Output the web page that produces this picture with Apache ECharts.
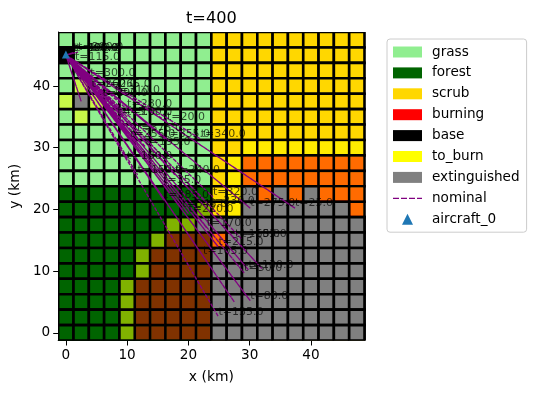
<!DOCTYPE html>
<html>
<head>
<meta charset="utf-8">
<style>html,body{margin:0;background:#fff}#chart{width:536px;height:393px}</style>
<script src="https://cdn.jsdelivr.net/npm/echarts@6/dist/echarts.min.js"></script>
</head>
<body>
<div id="chart"></div>
<script>
const tickValues = [0, 10, 20, 30, 40];
const cellKm = 2.5;
const basePoint = [0, 45];
const aircraftPoint = [0, 45.1];

// one string per row, top row (y = 47.5) first, one letter per column
const fuelRows = [
  "ggggggggggssssssssss", "ggggggggggssssssssss", "ggggggggggssssssssss", "ggggggggggssssssssss", "ggggggggggssssssssss",
  "ggggggggggssssssssss", "ggggggggggssssssssss", "ggggggggggssssssssss", "ggggggggggssssssssss", "ggggggggggssssssssss",
  "ffffffffffssssssssss", "ffffffffffssssssssss", "ffffffffffssssssssss", "ffffffffffssssssssss", "ffffffffffssssssssss",
  "ffffffffffssssssssss", "ffffffffffssssssssss", "ffffffffffssssssssss", "ffffffffffssssssssss", "ffffffffffssssssssss",
];
const stateRows = [
  "....................",
  "k...................",
  "....................",
  ".y..................",
  "yxy.................",
  ".y..................",
  "....................",
  "............yyyyyyyy",
  "...........ybbbbbbbb",
  "...........ybbbbbbbb",
  "...........yxbxbxbbb",
  ".........y.yxxxxxxxb",
  ".......yyxxxxxxxxxxx",
  "......ybbbbxxxxxxxxx",
  ".....ybbbbxxxxxxxxxx",
  ".....ybbbbxxxxxxxxxx",
  "....ybbbbbxxxxxxxxxx",
  "....ybbbbbxxxxxxxxxx",
  "....ybbbbbxxxxxxxxxx",
  "....ybbbbbxxxxxxxxxx",
];

// drop points of the nominal route, in time order ("" = label not readable)
const targetLabels = ["t=20.0", "t=25.0", "t=35.0", "t=45.0", "t=50.0", "", "t=80.0", "", "t=100.0", "t=105.0", "t=115.0", "t=130.0", "t=135.0", "t=150.0", "t=160.0", "t=165.0", "t=170.0", "t=180.0", "t=185.0", "t=195.0", "t=215.0", "t=220.0", "t=230.0", "t=240.0", "t=255.0", "t=260.0", "t=265.0", "t=275.0", "t=280.0", "t=290.0", "t=300.0", "t=310.0", "t=320.0", "t=340.0", "t=345.0", "t=355.0", "t=375.0", "t=385.0", "", "t=390.0", "t=395.0", "t=400.0"];
const targetX = [16.5, 37.4, 15.9, 8.4, 29.1, 32, 30.1, 27.5, 1.6, 22.4, 1.5, 29.8, 24.9, 11.7, 10, 27.6, 23, 10, 28.7, 13, 24.9, 20, 23.5, 17.8, 10.5, 4.2, 6.5, 30.1, 10, 6, 4, 8, 24, 22, 19, 16.2, 11.6, 16, 2.5, 2, 1.2, 1.2];
const targetY = [34.2, 20.2, 24, 35, 9.7, 10.4, 5.2, 5, 45.4, 12.4, 43.9, 10.2, 2.6, 25.6, 35, 15.2, 17, 27.9, 15.2, 30.1, 13.9, 19.3, 20.5, 25.6, 31.4, 39.5, 39.5, 20.2, 36.2, 38, 41.3, 38.5, 22, 31.4, 20, 31.4, 32.4, 21.5, 37.5, 45.5, 45.4, 45.4];

const colors = {
  grass: "#90ee90",
  forest: "#006400",
  scrub: "#ffd700",
  burning: "#ff0000",
  base: "#000000",
  to_burn: "#ffff00",
  extinguished: "#808080",
  nominal: "#800080",
  aircraft: "#1f77b4",
};

const font = "DejaVu Sans";
const gapPx = 2.6;

const cellsFor = (rows, code) => {
  const cells = [];
  rows.forEach((row, r) => {
    row.split("").forEach((c, col) => {
      if (c === code) {
        cells.push([col * cellKm, (rows.length - 1 - r) * cellKm]);
      }
    });
  });
  return cells;
};

const cellSeries = (name, rows, code, overlay) => ({
  name: name,
  type: "custom",
  coordinateSystem: "cartesian2d",
  clip: true,
  z: overlay ? 3 : 2,
  silent: true,
  itemStyle: {color: colors[name]},
  data: cellsFor(rows, code),
  encode: {x: 0, y: 1},
  renderItem: (params, api) => {
    const center = api.coord([api.value(0), api.value(1)]);
    const size = api.size([cellKm, cellKm]);
    const inset = overlay ? gapPx : 0;
    return {
      type: "rect",
      shape: {
        x: center[0] - size[0] / 2 + inset / 2,
        y: center[1] - size[1] / 2 + inset / 2,
        width: size[0] - inset,
        height: size[1] - inset,
      },
      style: overlay
        ? {fill: colors[name], opacity: 0.5}
        : {fill: colors[name], stroke: "#000", lineWidth: gapPx},
    };
  },
});

// the route goes out to every drop point and back to base
const routePoints = [basePoint];
targetX.forEach((x, i) => {
  routePoints.push([x, targetY[i]]);
  routePoints.push(basePoint);
});

const axisCommon = {
  type: "value",
  min: -1.25,
  max: 48.75,
  nameLocation: "middle",
  nameTextStyle: {color: "#000", fontFamily: font, fontSize: 13.9},
  splitLine: {show: false},
  axisLine: {show: true, onZero: false, lineStyle: {color: "#000", width: 1}},
  axisTick: {show: true, length: 5, lineStyle: {color: "#000", width: 1}, customValues: tickValues},
  axisLabel: {color: "#000", fontFamily: font, fontSize: 13.6, margin: 8, customValues: tickValues},
};

const legendPatch = (name) => ({
  name: name,
  icon: "rect",
  itemStyle: {color: colors[name], opacity: 1},
});

const option = {
  animation: false,
  backgroundColor: "#fff",
  title: {
    text: "t=400",
    left: 181,
    top: 6,
    textStyle: {color: "#000", fontFamily: font, fontSize: 16.2, fontWeight: "normal"},
  },
  grid: {left: 57.5, right: 171.5, top: 32, bottom: 52.5},
  xAxis: {...axisCommon, name: "x (km)", nameGap: 30},
  yAxis: {...axisCommon, name: "y (km)", nameGap: 35},
  legend: {
    orient: "vertical",
    left: 387,
    top: 39,
    padding: [6, 7, 6, 6],
    itemWidth: 29,
    itemHeight: 11,
    itemGap: 6.9,
    borderColor: "#ccc",
    borderWidth: 1,
    borderRadius: 3,
    backgroundColor: "#fff",
    textStyle: {color: "#000", fontFamily: font, fontSize: 13.6, padding: [0, 0, 0, 5]},
    data: [
      legendPatch("grass"),
      legendPatch("forest"),
      legendPatch("scrub"),
      legendPatch("burning"),
      legendPatch("base"),
      legendPatch("to_burn"),
      legendPatch("extinguished"),
      {
        name: "nominal",
        icon: "path://M0 0h6v1.2h-6zM8 0h6v1.2h-6zM16 0h6v1.2h-6zM24 0h5v1.2h-5z",
        itemStyle: {color: colors.nominal, opacity: 1},
      },
      {name: "aircraft_0", icon: "path://M5 0L10 10L0 10Z"},
    ],
  },
  series: [
    cellSeries("grass", fuelRows, "g", false),
    cellSeries("forest", fuelRows, "f", false),
    cellSeries("scrub", fuelRows, "s", false),
    cellSeries("burning", stateRows, "b", true),
    cellSeries("to_burn", stateRows, "y", true),
    cellSeries("base", stateRows, "k", false),
    cellSeries("extinguished", stateRows, "x", false),
    {
      name: "nominal",
      type: "line",
      z: 4,
      silent: true,
      showSymbol: false,
      symbol: "none",
      itemStyle: {color: colors.nominal},
      lineStyle: {color: colors.nominal, width: 1.3, type: [3.7, 1.6]},
      data: routePoints,
    },
    {
      name: "labels",
      type: "scatter",
      z: 5,
      silent: true,
      symbolSize: 0,
      data: targetX.map((x, i) => ({value: [x, targetY[i]], label: {formatter: targetLabels[i]}})),
      label: {
        show: true,
        position: "right",
        distance: 0,
        offset: [0, -5],
        color: "rgba(0,0,0,0.88)",
        fontFamily: font,
        fontSize: 11,
      },
    },
    {
      name: "aircraft_0",
      type: "scatter",
      z: 6,
      silent: true,
      symbol: "triangle",
      symbolSize: 8,
      itemStyle: {color: colors.aircraft, opacity: 1},
      data: [aircraftPoint],
    },
  ],
};

const chart = echarts.init(document.getElementById("chart"), null, {renderer: "canvas"});
chart.setOption(option);
</script>
</body>
</html>
